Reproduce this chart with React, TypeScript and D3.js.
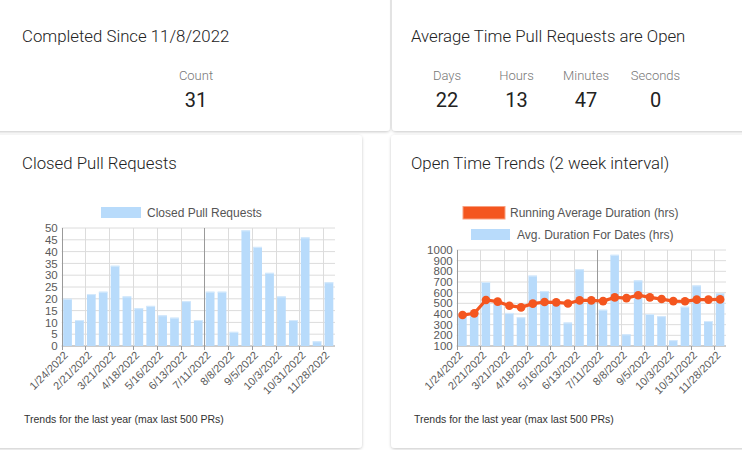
import React from "react";
import * as d3 from "d3";

const dates = ["1/24/2022","2/7/2022","2/21/2022","3/7/2022","3/21/2022","4/4/2022","4/18/2022","5/2/2022","5/16/2022","5/30/2022","6/13/2022","6/27/2022","7/11/2022","7/25/2022","8/8/2022","8/22/2022","9/5/2022","9/19/2022","10/3/2022","10/17/2022","10/31/2022","11/14/2022","11/28/2022"];
const closedCounts = [20,11,22,23,34,21,16,17,13,12,19,11,23,23,6,49,42,31,21,11,46,2,27];
const avgDuration = [390,425,700,495,410,370,760,615,500,320,820,515,440,955,210,715,400,380,155,468,668,334,595];
const runningAvg = [390,406,531,516,478,462,497,512,509,499,528,528,521,556,549,576,556,540,521,519,535,535,537];
const leftTicks = [0,5,10,15,20,25,30,35,40,45,50];
const rightTicks = [100,200,300,400,500,600,700,800,900,1000];
const timeUnits = ["Days","Hours","Minutes","Seconds"];
const timeValues = [22,13,47,0];

const BAR = "#b8dbfb";
const ORANGE = "#f4561f";
const GRID = "#dcdcdc";
const DARK = "#9a9a9a";
const FONT = "Roboto, 'Noto Sans', sans-serif";
const CFONT = "'Liberation Sans', Arial, sans-serif";

function Card({ x, y, w, h }: { x: number; y: number; w: number; h: number }) {
  return <rect x={x} y={y} width={w} height={h} rx={4} fill="#fff" filter="url(#sh)" />;
}

function BarChart({ x0, x1, yTop, yBot, domain, ticks, values, line }:
  { x0: number; x1: number; yTop: number; yBot: number; domain: [number, number]; ticks: number[]; values: number[]; line?: number[] }) {
  const xs = d3.scaleBand<string>().domain(dates).range([x0, x1]).paddingInner(0).paddingOuter(0);
  const ys = d3.scaleLinear().domain(domain).range([yBot, yTop]);
  const bw = xs.bandwidth();
  const labelIdx = dates.map((_, i) => i).filter((i) => i % 2 === 0);
  const lineGen = d3.line<number>().x((_, i) => (xs(dates[i]) as number) + bw / 2).y((v) => ys(v));
  return (
    <g>
      {ticks.map((t) => (
        <line key={"h" + t} x1={x0} x2={x1} y1={ys(t)} y2={ys(t)} stroke={t === domain[0] ? DARK : GRID} strokeWidth={1} />
      ))}
      {labelIdx.map((i) => {
        const xx = Math.round(xs(dates[i]) as number) + 0.5;
        return (
          <g key={"v" + i}>
            <line x1={xx} x2={xx} y1={yTop} y2={yBot} stroke={i === 0 || i === 12 ? DARK : GRID} strokeWidth={1} />
            <line x1={xx} x2={xx} y1={yBot} y2={yBot + 4} stroke={DARK} strokeWidth={1} />
          </g>
        );
      })}
      {values.map((v, i) => {
        const bx = (xs(dates[i]) as number) + 1.5;
        return (
          <g key={"b" + i}>
            <rect x={bx} y={ys(v)} width={bw - 3.2} height={ys(domain[0]) - ys(v)} fill={BAR} />
            <rect x={bx} y={ys(v)} width={bw - 3.2} height={1} fill="#d6eafc" />
          </g>
        );
      })}
      {ticks.map((t) => (
        <text key={"t" + t} x={x0 - 4} y={ys(t)} dy="0.36em" textAnchor="end" fontFamily={CFONT} fontSize={11.5} fill="#5a5a5a">{t}</text>
      ))}
      {labelIdx.map((i) => {
        const xx = (xs(dates[i]) as number) + 7;
        const yy = yBot + 10;
        return (
          <text key={"l" + i} transform={`translate(${xx},${yy}) rotate(-45)`} textAnchor="end" fontFamily={CFONT} fontSize={11} fill="#5a5a5a">{dates[i]}</text>
        );
      })}
      {line && (
        <g>
          <path d={lineGen(line) || ""} fill="none" stroke={ORANGE} strokeWidth={3.2} />
          {line.map((v, i) => (
            <circle key={"c" + i} cx={(xs(dates[i]) as number) + bw / 2} cy={ys(v)} r={4.3} fill={ORANGE} />
          ))}
        </g>
      )}
    </g>
  );
}

export default function App() {
  return (
    <div style={{ position: "fixed", left: 0, top: 0, width: 742, height: 450, background: "#fff" }}>
      <svg width={742} height={450} style={{ display: "block" }}>
        <defs>
          <filter id="sh" x="-5%" y="-5%" width="110%" height="115%">
            <feDropShadow dx={0} dy={1} stdDeviation={1.5} floodColor="#000" floodOpacity={0.22} />
          </filter>
        </defs>
        <rect x={0} y={0} width={742} height={450} fill="#fff" />
        <Card x={-10} y={-10} w={400} h={141} />
        <Card x={392} y={-10} w={360} h={141} />
        <Card x={-10} y={135} w={372} h={313} />
        <Card x={391} y={135} w={361} h={313} />

        <text x={22} y={42} fontFamily={FONT} fontWeight={300} fontSize={16.8} fill="#222">Completed Since 11/8/2022</text>
        <text x={196} y={80} textAnchor="middle" fontFamily={FONT} fontWeight={300} fontSize={13} fill="#777">Count</text>
        <text x={196} y={107} textAnchor="middle" fontFamily={FONT} fontSize={20} fill="#222">31</text>

        <text x={411} y={42} fontFamily={FONT} fontWeight={300} fontSize={16.8} fill="#222">Average Time Pull Requests are Open</text>
        {timeUnits.map((u, i) => (
          <g key={u}>
            <text x={447 + i * 69.5} y={80} textAnchor="middle" fontFamily={FONT} fontWeight={300} fontSize={13} fill="#777">{u}</text>
            <text x={447 + i * 69.5} y={107} textAnchor="middle" fontFamily={FONT} fontSize={20} fill="#222">{timeValues[i]}</text>
          </g>
        ))}

        <text x={22} y={169} fontFamily={FONT} fontWeight={300} fontSize={16.8} fill="#222">Closed Pull Requests</text>
        <text x={411} y={169} fontFamily={FONT} fontWeight={300} fontSize={16.8} fill="#222">Open Time Trends (2 week interval)</text>

        <rect x={101} y={207} width={40} height={11} fill={BAR} />
        <text x={147} y={212.5} dy="0.36em" fontFamily={CFONT} fontSize={12} fill="#555">Closed Pull Requests</text>

        <rect x={463} y={206.5} width={42} height={12.5} fill={ORANGE} stroke="#f8a080" strokeWidth={1} />
        <text x={510} y={212.5} dy="0.36em" fontFamily={CFONT} fontSize={12} fill="#555">Running Average Duration (hrs)</text>
        <rect x={471} y={229} width={39} height={11} fill={BAR} />
        <text x={517} y={234.5} dy="0.36em" fontFamily={CFONT} fontSize={12} fill="#555">Avg. Duration For Dates (hrs)</text>

        <BarChart x0={61.7} x1={335} yTop={228} yBot={346} domain={[0, 50]} ticks={leftTicks} values={closedCounts} />
        <BarChart x0={456.7} x1={726} yTop={250} yBot={346} domain={[100, 1000]} ticks={rightTicks} values={avgDuration} line={runningAvg} />

        <text x={24} y={423} fontFamily={CFONT} fontSize={10.5} fill="#333">Trends for the last year (max last 500 PRs)</text>
        <text x={414} y={423} fontFamily={CFONT} fontSize={10.5} fill="#333">Trends for the last year (max last 500 PRs)</text>
      </svg>
    </div>
  );
}
